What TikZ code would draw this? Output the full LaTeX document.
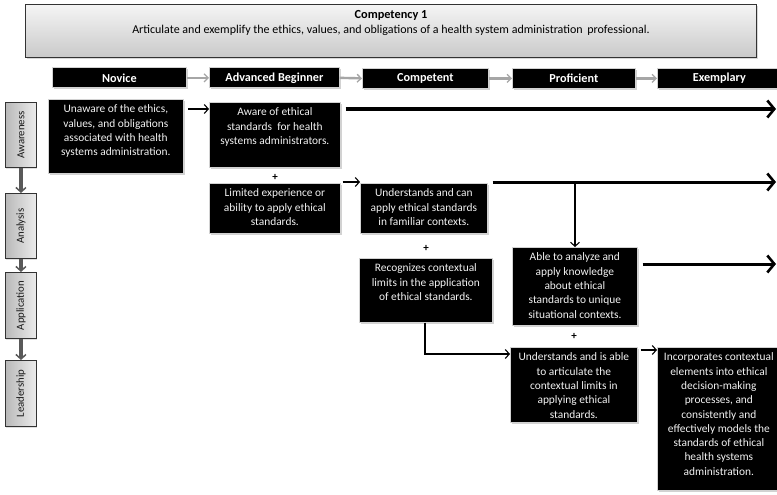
\documentclass[tikz,border=0pt]{standalone}
\usepackage{fontspec}
\setmainfont{Carlito}
\usetikzlibrary{arrows.meta,shadows}
\newcommand{\btxt}[3]{\parbox[c][#2pt][t]{#1pt}{\centering\vspace*{3.5pt}\strut #3}}
\tikzset{
  blk/.style={fill=black, draw=gray!35, line width=0.7pt, text=white!90!gray,
    drop shadow={shadow xshift=1.3pt, shadow yshift=-1.6pt, opacity=0.35, fill=gray},
    inner sep=0pt, anchor=north west, font=\fontsize{11.4}{14.3}\selectfont},
  hdr/.style={blk, text=white, font=\fontsize{12.2}{13}\selectfont\bfseries,
    minimum height=20pt},
  side/.style={draw=gray!40!black, line width=0.9pt, left color=gray!55, right color=gray!15,
    rotate=90, anchor=north east, inner sep=0pt, minimum height=31pt,
    text=black!90, font=\fontsize{10.8}{12}\selectfont,
    drop shadow={shadow xshift=1pt, shadow yshift=-1.2pt, opacity=0.25, fill=gray}},
  toparr/.style={draw=gray!70, line width=2.4pt, -{Straight Barb[length=4pt,width=8pt,line width=1.3pt]}},
  sidearr/.style={draw=gray!70!black, line width=3.4pt, -{Straight Barb[length=4.5pt,width=10pt,line width=1.5pt]}},
  thinarr/.style={draw=black, line width=1.1pt, -{Straight Barb[length=4pt,width=9pt,line width=1.1pt]}},
  thickarr/.style={draw=black, line width=3pt, -{Straight Barb[length=7pt,width=17pt,line width=2.6pt]}},
  plus/.style={inner sep=0pt, font=\fontsize{11}{12}\selectfont\bfseries}
}
\begin{document}
\begin{tikzpicture}[x=1pt,y=-1pt]
\useasboundingbox (0,0) rectangle (777,495);
\fill[white] (0,0) rectangle (777,495);

% top box
\node[draw=gray!40!black, line width=0.8pt, top color=gray!8, bottom color=gray!42,
  minimum width=731pt, minimum height=53pt, anchor=north west, inner sep=0pt,
  drop shadow={shadow xshift=1.3pt, shadow yshift=-1.6pt, opacity=0.3, fill=gray}] (comp) at (25,4) {};
\node[font=\fontsize{12.3}{13}\selectfont\bfseries, inner sep=0pt] (ctitle) at (391,15) {Competency 1};
\node[font=\fontsize{12}{13}\selectfont, inner sep=0pt] (csub) at (391,30) {Articulate and exemplify the ethics, values, and obligations of a health system administration\, professional.};

% headers
\node[hdr, minimum width=134pt] (hnov) at (52,67.5) {Novice};
\node[hdr, minimum width=130pt] (hadv) at (209,67.5) {Advanced Beginner};
\node[hdr, minimum width=126pt] (hcom) at (362,68) {Competent};
\node[hdr, minimum width=123pt] (hpro) at (512,68) {Proficient};
\node[hdr, minimum width=124pt] (hexe) at (657,68) {Exemplary};
\draw[toparr] (hnov.east) -- (hadv.west);
\draw[toparr] (hadv.east) -- (hcom.west);
\draw[toparr] (hcom.east) -- (hpro.west);
\draw[toparr] (hpro.east) -- (hexe.west);

% side boxes
\node[side, minimum width=65pt] (saw) at (5,102) {Awareness};
\node[side, minimum width=65pt] (san) at (5,193) {Analysis};
\node[side, minimum width=66pt] (sap) at (5,272) {Application};
\node[side, minimum width=66pt] (sle) at (5,360) {Leadership};
\draw[sidearr] (saw.west) -- (san.east);
\draw[sidearr] (san.west) -- (sap.east);
\draw[sidearr] (sap.west) -- (sle.east);

% content boxes
\node[blk] (nov) at (48,99) {\btxt{135}{74}{Unaware of the ethics,\\ values, and obligations\\ associated with health\\ systems administration.}};
\node[blk] (awa) at (209,102) {\btxt{131}{65}{Aware of ethical\\ standards\ \ for health\\ systems administrators.}};
\node[blk] (lim) at (209,183) {\btxt{131}{50}{Limited experience or\\ ability to apply ethical\\ standards.}};
\node[blk] (und) at (360,183) {\btxt{127}{50}{Understands and can\\ apply ethical standards\\ in familiar contexts.}};
\node[blk] (rec) at (359,258) {\btxt{133}{64}{Recognizes contextual\\ limits in the application\\ of ethical standards.}};
\node[blk] (abl) at (512,247) {\btxt{125}{78}{Able to analyze and\\ apply knowledge\\ about ethical\\ standards to unique\\ situational contexts.}};
\node[blk] (uab) at (510,347) {\btxt{127}{75}{Understands\ and is able\\ to articulate the\\ contextual limits in\\ applying ethical\\ standards.}};
\node[blk] (inc) at (657,347) {\btxt{123}{143}{Incorporates\ contextual\\ elements into ethical\\ decision-making\\ processes, and\\ consistently and\\ effectively models the\\ standards of ethical\\ health systems\\ administration.}};

% plus signs
\node[plus] (p1) at (275,177) {+};
\node[plus] (p2) at (426,248) {+};
\node[plus] (p3) at (574,336) {+};

% coordinates for free ends
\coordinate (e1) at (776,109);
\coordinate (e2) at (776,182);
\coordinate (e3) at (776,264);
\coordinate (j1) at (575,182);
\coordinate (k1) at (425,354);

% arrows
\draw[thinarr] (188,109) -- (awa.west |- 0,109);
\draw[thickarr] (awa.east |- 0,109) ++(5,0) -- (e1);
\draw[thinarr] (lim.east |- 0,182) ++(2,0) -- (und.west |- 0,182);
\draw[thickarr] (und.east |- 0,182) ++(5,0) -- (e2);
\draw[thinarr, line width=1.2pt] (j1) -- (abl.north -| j1);
\draw[thickarr] (abl.east |- 0,264) ++(5,0) -- (e3);
\draw[thinarr, line width=1.2pt] (rec.south -| k1) -- (k1) -- (uab.west |- k1);
\draw[thinarr] (uab.east |- 0,350) ++(3,0) -- (inc.west |- 0,350);
\end{tikzpicture}
\end{document}
